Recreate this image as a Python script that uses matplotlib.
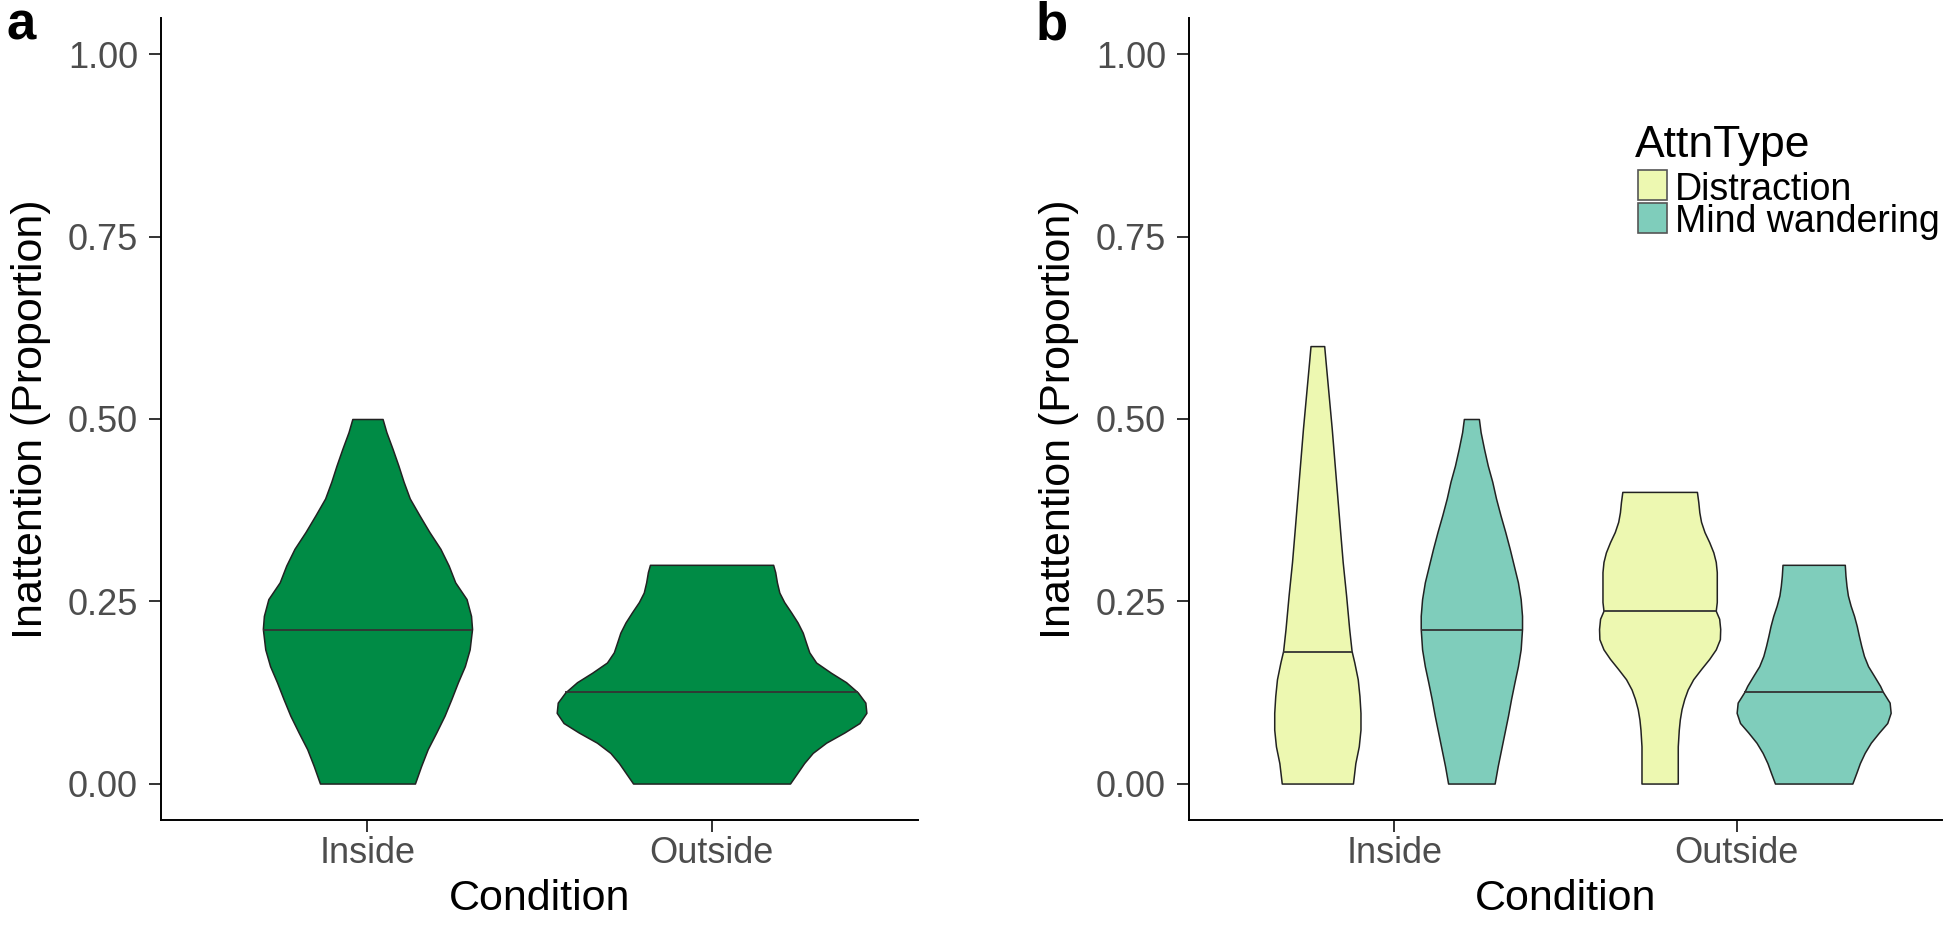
import numpy as np
import matplotlib
matplotlib.use("Agg")
import matplotlib.pyplot as plt
from matplotlib.patches import Rectangle

plt.rcParams['font.family'] = ['Liberation Sans', 'DejaVu Sans']

# ---------------- data ----------------
categories = ["Inside", "Outside"]
attn_types = ["Distraction", "Mind wandering"]
y_ticks = [0.00, 0.25, 0.50, 0.75, 1.00]

# Panel a: violin outlines (y, half-width in category units) and medians
a_inside_y = [0.500, 0.482, 0.459, 0.436, 0.414, 0.391, 0.368, 0.345, 0.322, 0.299, 0.276, 0.253,
              0.230, 0.212, 0.184, 0.161, 0.139, 0.116, 0.093, 0.070, 0.047, 0.024, 0.000]
a_inside_w = [0.044, 0.055, 0.073, 0.090, 0.105, 0.123, 0.151, 0.180, 0.212, 0.236, 0.255, 0.288,
              0.301, 0.304, 0.297, 0.283, 0.263, 0.244, 0.224, 0.200, 0.175, 0.156, 0.138]
a_inside_median = 0.21

a_outside_y = [0.300, 0.290, 0.276, 0.262, 0.249, 0.235, 0.221, 0.207, 0.194, 0.180, 0.166, 0.152,
               0.139, 0.125, 0.111, 0.097, 0.083, 0.070, 0.056, 0.042, 0.028, 0.015, 0.000]
a_outside_w = [0.179, 0.185, 0.190, 0.197, 0.211, 0.231, 0.250, 0.265, 0.274, 0.284, 0.304, 0.347,
               0.391, 0.425, 0.447, 0.450, 0.430, 0.386, 0.333, 0.294, 0.269, 0.250, 0.228]
a_outside_median = 0.125

# Panel b: Distraction / Mind wandering per condition
b_in_dis_y = [0.600, 0.579, 0.533, 0.487, 0.441, 0.395, 0.349, 0.304, 0.258, 0.212, 0.182, 0.166,
              0.143, 0.120, 0.097, 0.074, 0.051, 0.028, 0.000]
b_in_dis_w = [0.020, 0.024, 0.033, 0.042, 0.050, 0.058, 0.066, 0.074, 0.084, 0.093, 0.100, 0.108,
              0.118, 0.123, 0.126, 0.126, 0.121, 0.111, 0.104]
b_in_dis_median = 0.18

b_in_mw_y = [0.500, 0.482, 0.459, 0.436, 0.414, 0.391, 0.368, 0.345, 0.322, 0.299, 0.276, 0.253,
             0.230, 0.212, 0.184, 0.161, 0.139, 0.116, 0.093, 0.070, 0.047, 0.024, 0.000]
b_in_mw_w = [0.022, 0.027, 0.037, 0.048, 0.061, 0.072, 0.085, 0.099, 0.112, 0.124, 0.136, 0.144,
             0.148, 0.148, 0.144, 0.136, 0.126, 0.116, 0.107, 0.097, 0.087, 0.077, 0.068]
b_in_mw_median = 0.21

b_out_dis_y = [0.400, 0.386, 0.372, 0.359, 0.345, 0.331, 0.317, 0.304, 0.290, 0.276, 0.262, 0.249,
               0.237, 0.226, 0.212, 0.198, 0.184, 0.171, 0.157, 0.143, 0.129, 0.116, 0.102, 0.088,
               0.074, 0.051, 0.028, 0.000]
b_out_dis_w = [0.109, 0.113, 0.116, 0.121, 0.131, 0.145, 0.157, 0.164, 0.167, 0.167, 0.167, 0.167,
               0.164, 0.174, 0.177, 0.176, 0.164, 0.145, 0.121, 0.098, 0.082, 0.072, 0.064, 0.059,
               0.056, 0.053, 0.053, 0.053]
b_out_dis_median = 0.237

b_out_mw_y = [0.300, 0.285, 0.271, 0.258, 0.244, 0.230, 0.216, 0.203, 0.189, 0.175, 0.161, 0.148,
              0.134, 0.126, 0.111, 0.097, 0.083, 0.070, 0.056, 0.042, 0.028, 0.015, 0.000]
b_out_mw_w = [0.091, 0.093, 0.096, 0.100, 0.108, 0.118, 0.126, 0.132, 0.139, 0.147, 0.159, 0.176,
              0.194, 0.202, 0.222, 0.225, 0.215, 0.191, 0.167, 0.149, 0.135, 0.125, 0.113]
b_out_mw_median = 0.125

# ---------------- styles ----------------
GREEN = "#008B45"
FILLS = {"Distraction": "#EDF8B1", "Mind wandering": "#7FCDBB"}
EDGE = "#222222"
TICK_GRAY = "#4D4D4D"
DODGE = 0.225

W, H = 1946, 935
fig = plt.figure(figsize=(W / 100, H / 100), dpi=100)
fig.patch.set_facecolor("white")

ax_bottom = (H - 820) / H
ax_height = (820 - 18) / H
axA = fig.add_axes([161 / W, ax_bottom, (918 - 161) / W, ax_height])
axB = fig.add_axes([1189 / W, ax_bottom, (1942 - 1189) / W, ax_height])


def violin(ax, center, ys, ws, median, color):
    ys = np.asarray(ys)
    ws = np.asarray(ws)
    ax.fill_betweenx(ys, center - ws, center + ws, facecolor=color,
                     edgecolor=EDGE, linewidth=1.1, zorder=2)
    wm = np.interp(median, ys[::-1], ws[::-1])
    ax.hlines(median, center - wm, center + wm, color="#333333", linewidth=1.3, zorder=3)


violin(axA, 1, a_inside_y, a_inside_w, a_inside_median, GREEN)
violin(axA, 2, a_outside_y, a_outside_w, a_outside_median, GREEN)

violin(axB, 1 - DODGE, b_in_dis_y, b_in_dis_w, b_in_dis_median, FILLS["Distraction"])
violin(axB, 1 + DODGE, b_in_mw_y, b_in_mw_w, b_in_mw_median, FILLS["Mind wandering"])
violin(axB, 2 - DODGE, b_out_dis_y, b_out_dis_w, b_out_dis_median, FILLS["Distraction"])
violin(axB, 2 + DODGE, b_out_mw_y, b_out_mw_w, b_out_mw_median, FILLS["Mind wandering"])

for ax in (axA, axB):
    ax.set_xlim(0.4, 2.6)
    ax.set_ylim(-0.05, 1.05)
    ax.set_xticks([1, 2])
    ax.set_xticklabels(categories)
    ax.set_yticks(y_ticks)
    ax.set_yticklabels([f"{v:.2f}" for v in y_ticks])
    for s in ("top", "right"):
        ax.spines[s].set_visible(False)
    for s in ("left", "bottom"):
        ax.spines[s].set_linewidth(1.4)
        ax.spines[s].set_color("black")
    ax.tick_params(axis="both", length=8.6, width=1.4, color="#333333",
                   labelsize=26, labelcolor=TICK_GRAY)
    ax.tick_params(axis="y", pad=8)
    ax.tick_params(axis="x", pad=3)
    ax.set_xlabel("Condition", fontsize=31, labelpad=6)
    ax.set_ylabel("Inattention (Proportion)", fontsize=31, labelpad=12)
    ax.set_facecolor("white")

# panel letters
fig.text(6 / W, 1 - 40 / H, "a", fontsize=38, fontweight="bold", va="baseline", ha="left")
fig.text(1036 / W, 1 - 40 / H, "b", fontsize=38, fontweight="bold", va="baseline", ha="left")

# legend (panel b)
fig.text(1635 / W, 1 - 157 / H, "AttnType", fontsize=32, va="baseline", ha="left")
key_rows = [(170, 200, 200), (203.3, 233.3, 232)]
for name, (top, bot, base) in zip(attn_types, key_rows):
    fig.patches.append(Rectangle((1637.7 / W, 1 - bot / H), 29.6 / W, (bot - top) / H,
                                 transform=fig.transFigure, facecolor=FILLS[name],
                                 edgecolor="#555555", linewidth=1.2))
    fig.text(1675 / W, 1 - base / H, name, fontsize=27, va="baseline", ha="left")

fig.savefig("out.png", dpi=100)
